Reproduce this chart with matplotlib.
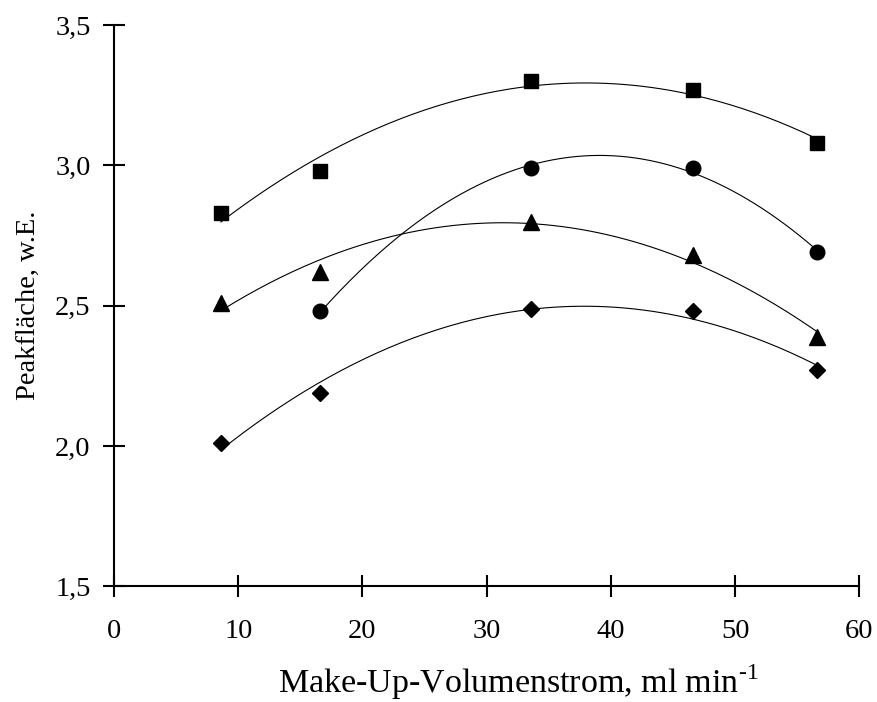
import numpy as np
import matplotlib.pyplot as plt
from matplotlib.ticker import FuncFormatter

# --- Messwerte ---
x_vol = [8.6, 16.6, 33.6, 46.6, 56.6]
x_vol_kreis = [16.6, 33.6, 46.6, 56.6]

flaeche_quadrat = [2.83, 2.98, 3.30, 3.27, 3.08]
flaeche_kreis = [2.48, 2.99, 2.99, 2.69]
flaeche_dreieck = [2.51, 2.62, 2.80, 2.68, 2.39]
flaeche_raute = [2.01, 2.19, 2.49, 2.48, 2.27]

x_ticks = [0, 10, 20, 30, 40, 50, 60]
y_ticks = [1.5, 2.0, 2.5, 3.0, 3.5]

plt.rcParams['font.family'] = ['Liberation Serif', 'DejaVu Serif']
plt.rcParams['mathtext.fontset'] = 'custom'
plt.rcParams['mathtext.rm'] = 'Liberation Serif'

fig = plt.figure(figsize=(8.77, 7.02), dpi=100)
ax = fig.add_axes([0.13, 0.165, 0.85, 0.799])

reihen = [
    (x_vol, flaeche_quadrat, 's', 10.5),
    (x_vol_kreis, flaeche_kreis, 'o', 10.5),
    (x_vol, flaeche_dreieck, '^', 11),
    (x_vol, flaeche_raute, 'D', 8.5),
]

for xs, ys, marker, ms in reihen:
    # Polynom 2. Grades als Trendlinie
    koeff = np.polyfit(xs, ys, 2)
    xf = np.linspace(min(xs), max(xs), 200)
    ax.plot(xf, np.polyval(koeff, xf), color='black', lw=0.8, zorder=2)
    ax.plot(xs, ys, linestyle='none', marker=marker, ms=ms,
            color='black', zorder=3)

ax.set_xlim(0, 60)
ax.set_ylim(1.5, 3.5)
ax.set_xticks(x_ticks)
ax.set_yticks(y_ticks)
ax.yaxis.set_major_formatter(FuncFormatter(lambda v, p: f"{v:.1f}".replace('.', ',')))

for side in ['top', 'right']:
    ax.spines[side].set_visible(False)
for side in ['left', 'bottom']:
    ax.spines[side].set_linewidth(1.5)

ax.tick_params(direction='inout', length=15.5, width=1.5, labelsize=20.5)
ax.tick_params(axis='x', pad=16)
ax.tick_params(axis='y', pad=9)

ax.set_xlabel('Make-Up-Volumenstrom, ml min$^{\\text{-1}}$', fontsize=24.5)
ax.xaxis.set_label_coords(0.542, -0.135)
ax.set_ylabel('Peakfläche, w.E.', fontsize=20.5, labelpad=10)

fig.savefig('out.png', dpi=100)
plt.close(fig)
